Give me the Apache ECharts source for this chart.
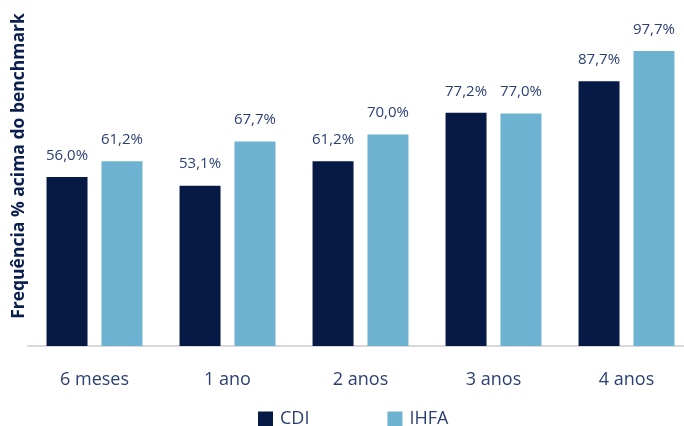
<!DOCTYPE html>
<html><head><meta charset="utf-8">
<script src="https://cdn.jsdelivr.net/npm/echarts@6/dist/echarts.min.js"></script>
<style>html,body{margin:0;padding:0;background:#fff}#c{width:684px;height:426px}</style>
</head><body><div id="c"></div>
<script>
const categories = ['6 meses', '1 ano', '2 anos', '3 anos', '4 anos'];
const cdi = [56.0, 53.1, 61.2, 77.2, 87.7];
const ihfa = [61.2, 67.7, 70.0, 77.0, 97.7];
const yTitle = 'Frequência % acima do benchmark';
const fmt = v => v.toFixed(1).replace('.', ',') + '%';
const font = '"Open Sans", "Noto Sans", sans-serif';
const chart = echarts.init(document.getElementById('c'));
const lbl = {show: true, position: 'top', distance: 14, color: '#2b3f74', fontSize: 15, fontFamily: font,
  formatter: p => fmt(p.value)};
chart.setOption({
  animation: false,
  textStyle: {fontFamily: font},
  grid: {left: 28, top: 44, right: -9, bottom: 80, containLabel: false, outerBoundsMode: 'none'},
  legend: {
    data: ['CDI', 'IHFA'], top: 410, left: 258, padding: 0, itemWidth: 15, itemHeight: 15, itemGap: 78,
    icon: 'rect', textStyle: {color: '#2b3f74', fontSize: 18, fontFamily: font, padding: [0, 0, 0, 2]}
  },
  graphic: [{
    type: 'text', x: 19, y: 166, rotation: Math.PI / 2,
    style: {text: yTitle, fill: '#0b1f4f', font: 'bold 17.5px ' + font, align: 'center', verticalAlign: 'middle'}
  }],
  xAxis: {
    type: 'category', data: categories,
    axisLine: {lineStyle: {color: '#d9d9d9', width: 2}},
    axisTick: {show: false},
    axisLabel: {color: '#2b3f74', fontSize: 18, margin: 25, fontFamily: font}
  },
  yAxis: {
    type: 'value', min: 0, max: 100,
    axisLabel: {show: false}, splitLine: {show: false}, axisLine: {show: false}, axisTick: {show: false}
  },
  series: [
    {name: 'CDI', type: 'bar', data: cdi, barWidth: 41, barGap: '34%', itemStyle: {color: '#071a45'}, label: lbl},
    {name: 'IHFA', type: 'bar', data: ihfa, barWidth: 41, itemStyle: {color: '#6db3d1'}, label: lbl}
  ]
});
</script></body></html>
